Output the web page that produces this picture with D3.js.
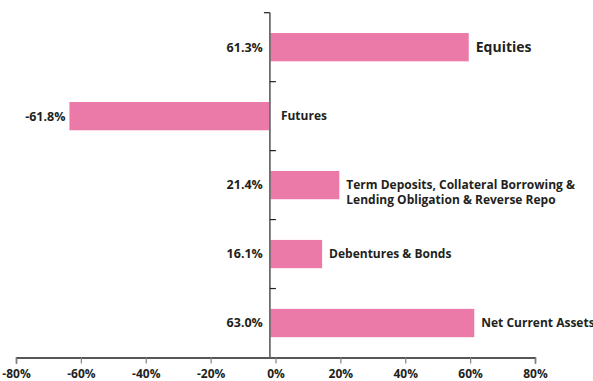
<!DOCTYPE html>
<html>
<head>
<meta charset="utf-8">
<script src="https://cdn.jsdelivr.net/npm/d3@7"></script>
<style>
  html, body { margin: 0; padding: 0; background: #fff; }
  svg { display: block; }
  text { font-family: "Open Sans", "DejaVu Sans", sans-serif; font-weight: 700; fill: #231f20; }
</style>
</head>
<body>
<svg id="chart" width="593" height="381"></svg>
<script>
// Asset allocation: change in exposure by category (%)
const categories = [
  ["Equities"],
  ["Futures"],
  ["Term Deposits, Collateral Borrowing &", "Lending Obligation & Reverse Repo"],
  ["Debentures & Bonds"],
  ["Net Current Assets"]
];
const values = [61.3, -61.8, 21.4, 16.1, 63.0];
const valueLabels = ["61.3%", "-61.8%", "21.4%", "16.1%", "63.0%"];
const xTicks = [-80, -60, -40, -20, 0, 20, 40, 60, 80];

const barColor = "#ec7aa8";
const svg = d3.select("#chart");

const plotTop = 12.7, plotBottom = 357.5;
const x = d3.scaleLinear().domain([-80, 80]).range([16, 535]);
// bars are anchored on the category axis, which sits slightly left of the 0% tick
const xBar = x.copy().range(x.range().map(v => v - 5.6));

const idx = d3.range(categories.length);
const y = d3.scaleBand().domain(idx).range([plotTop, plotBottom]).paddingInner(0.59).paddingOuter(0.295);
const band = d3.scaleBand().domain(idx).range([plotTop, plotBottom]);

// bars
svg.append("g").selectAll("rect").data(idx).join("rect")
  .attr("x", i => Math.min(xBar(0), xBar(values[i])))
  .attr("width", i => Math.abs(xBar(values[i]) - xBar(0)))
  .attr("y", i => y(i))
  .attr("height", y.bandwidth())
  .attr("fill", barColor);

// x axis
const xAxis = d3.axisBottom(x).tickValues(xTicks).tickFormat(d => d + "%").tickSize(6).tickSizeOuter(6).tickPadding(6);
const gx = svg.append("g").attr("transform", `translate(0,${plotBottom})`).call(xAxis);
gx.select(".domain").attr("stroke", "#231f20").attr("stroke-width", 1.4);
gx.selectAll(".tick line").attr("stroke", "#808285").attr("stroke-width", 1.2);
gx.selectAll(".tick text").attr("font-size", 12).attr("font-family", null).attr("fill", "#231f20");

// category axis
const ax = xBar(0);
svg.append("line")
  .attr("x1", ax).attr("x2", ax).attr("y1", plotTop).attr("y2", plotBottom)
  .attr("stroke", "#6d6e71").attr("stroke-width", 1.8);
svg.append("line")
  .attr("x1", ax - 6).attr("x2", ax).attr("y1", plotTop).attr("y2", plotTop)
  .attr("stroke", "#231f20").attr("stroke-width", 1.2);
svg.append("g").selectAll("line").data(idx.slice(1)).join("line")
  .attr("x1", ax).attr("x2", ax + 6)
  .attr("y1", i => band(i)).attr("y2", i => band(i))
  .attr("stroke", "#231f20").attr("stroke-width", 1.2);

// value labels
svg.append("g").selectAll("text").data(idx).join("text")
  .attr("x", i => values[i] < 0 ? xBar(values[i]) - 4 : ax - 7)
  .attr("y", i => y(i) + y.bandwidth() / 2)
  .attr("dy", "0.35em")
  .attr("text-anchor", "end")
  .attr("font-size", 12.5)
  .text(i => valueLabels[i]);

// category labels; the leading category is set a size larger
svg.append("g").selectAll("text").data(idx).join("text")
  .attr("x", i => Math.max(xBar(values[i]), ax) + (values[i] < 0 ? 11 : 7))
  .attr("y", i => y(i) + y.bandwidth() / 2)
  .attr("font-size", i => i === 0 ? 14 : 12)
  .selectAll("tspan").data(i => categories[i].map((t, k) => ({ t, k })))
  .join("tspan")
  .attr("x", function () { return d3.select(this.parentNode).attr("x"); })
  .attr("dy", d => d.k === 0 ? "0.35em" : "15px")
  .text(d => d.t);
</script>
</body>
</html>
